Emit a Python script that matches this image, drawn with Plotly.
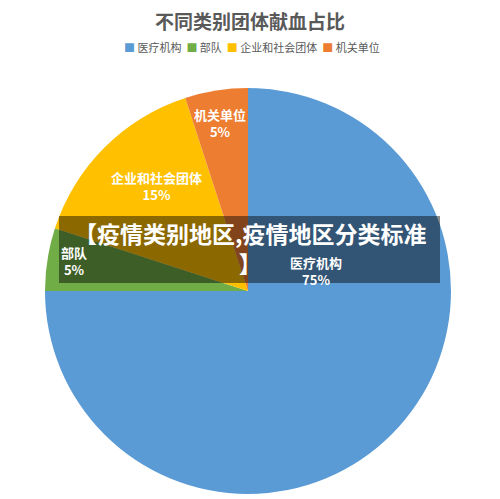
import plotly.graph_objects as go

categories = ['医疗机构', '部队', '企业和社会团体', '机关单位']
shares = [75, 5, 15, 5]
colors = ['#5B9BD5', '#70AD47', '#FFC000', '#ED7D31']
title = '不同类别团体献血占比'
banner = '【疫情类别地区,疫情地区分类标准<br>】'

W, H = 500, 499
OFF = 8  # page body margin of the html page
font = 'Noto Sans CJK SC'


def px(x, y):
    # screen pixel -> paper coords
    return (x - OFF) / W, 1 - (y - OFF) / H


pl, pt = px(45, 88)
pr, pb = px(451, 494)
fig = go.Figure(go.Pie(
    labels=categories, values=shares, marker=dict(colors=colors),
    sort=False, direction='clockwise', rotation=0,
    textinfo='none', hoverinfo='label+percent',
    domain=dict(x=[pl, pr], y=[pb, pt]),
))

# data labels placed roughly where the original chart puts them
label_pos = [(316, 271), (74, 261), (156, 186), (220, 123)]
annotations = []
for name, v, (lx, ly) in zip(categories, shares, label_pos):
    x, y = px(lx, ly)
    annotations.append(dict(
        x=x, y=y, xref='paper', yref='paper', xanchor='center', yanchor='middle',
        showarrow=False, text=f'<b>{name}<br>{v}%</b>', align='center',
        font=dict(family=font, size=13, color='white'),
    ))

# legend drawn as one line of text with coloured squares
legend_text = '  '.join(
    f"<span style='color:{c}'>■</span> {n}" for n, c in zip(categories, colors))
lx, ly = px(252, 47)
annotations.append(dict(
    x=lx, y=ly, xref='paper', yref='paper', xanchor='center', yanchor='middle',
    showarrow=False, text=legend_text, font=dict(family=font, size=11, color='#595959'),
))

# dark banner across the middle
x0, y1 = px(59, 216)
x1, y0 = px(440, 283)
bx, by = px(250, 248)
annotations.append(dict(
    x=bx, y=by, xref='paper', yref='paper', xanchor='center', yanchor='middle',
    showarrow=False, text=f'<b>{banner}</b>', align='center',
    font=dict(family=font, size=23, color='white'),
))

tx, ty = px(250, 20)
annotations.append(dict(
    x=tx, y=ty, xref='paper', yref='paper', xanchor='center', yanchor='middle',
    showarrow=False, borderpad=0, text=f'<b>{title}</b>',
    font=dict(family=font, size=19, color='#595959'),
))

fig.update_layout(
    width=W, height=H,
    margin=dict(l=0, r=0, t=0, b=0, autoexpand=False),
    paper_bgcolor='white', plot_bgcolor='white',
    font=dict(family=font, color='#595959'),
    showlegend=False,
    shapes=[dict(type='rect', xref='paper', yref='paper', x0=x0, x1=x1, y0=y0, y1=y1,
                 fillcolor='rgba(0,0,0,0.45)', line=dict(width=0), layer='above')],
    annotations=annotations,
)

fig.write_html('out.html')
